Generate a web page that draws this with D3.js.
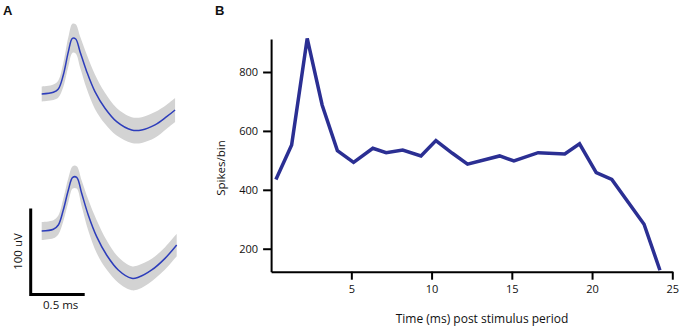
<!DOCTYPE html>
<html>
<head>
<meta charset="utf-8">
<script src="https://cdn.jsdelivr.net/npm/d3@7"></script>
<style>
  body { margin: 0; background: #fff; }
  svg text { font-family: "Open Sans", "Liberation Sans", sans-serif; fill: #111; }
</style>
</head>
<body>
<svg id="fig" width="680" height="329"></svg>
<script>
// ---- panel A : mean waveforms (ms, uV) with +/- sd band ----
var waveT1 = [0, 0.108, 0.154, 0.2, 0.247, 0.284, 0.315, 0.355, 0.417, 0.493, 0.586, 0.694, 0.833, 0.926, 1.049, 1.157, 1.235];
var waveV1 = [0, 2, 5.8, 22, 49.2, 64.8, 64, 49.2, 26, 2.7, -16.6, -32.2, -41.9, -41.9, -36, -26.4, -18.6];
var waveSd1 = [8.7, 9, 10, 14, 17, 17, 17, 18, 20, 20, 18, 16, 15, 15, 15, 14, 14];

var waveT2 = [0, 0.108, 0.154, 0.2, 0.247, 0.287, 0.324, 0.37, 0.431, 0.509, 0.601, 0.709, 0.833, 0.895, 1.019, 1.142, 1.25];
var waveV2 = [0, 2, 7, 24.4, 47.7, 62.4, 62.4, 43.8, 18.6, -6.6, -27.9, -45.3, -55, -53.8, -45.3, -31.8, -16.3];
var waveSd2 = [10.5, 10.5, 11, 13, 14, 13, 13, 15, 18, 19, 17, 15, 14, 14, 13, 13, 13];

// ---- panel B : PSTH ----
var psthTime = [0.3, 1.28, 2.25, 3.18, 4.13, 5.14, 6.34, 7.17, 8.2, 9.34, 10.27, 11.3, 12.24, 14.24, 15.13, 16.64, 18.3, 19.22, 20.26, 21.23, 23.24, 24.23];
var psthSpikes = [435, 552, 914, 688, 533, 493, 541, 526, 535, 515, 567, 524, 487, 515, 498, 526, 522, 556, 458, 435, 283, 127];
var xTicks = [5, 10, 15, 20, 25];
var yTicks = [200, 400, 600, 800];

var svg = d3.select("#fig");

// panel letters
svg.append("text").attr("x", 3).attr("y", 15).text("A")
	.attr("font-size", "13px").attr("font-weight", "bold").style("font-family", "Liberation Sans, Arial, sans-serif");
svg.append("text").attr("x", 215).attr("y", 15).text("B")
	.attr("font-size", "13px").attr("font-weight", "bold").style("font-family", "Liberation Sans, Arial, sans-serif");

// A scales: 108 px per ms, 0.86 px per uV
var xA = d3.scaleLinear().domain([0, 1.25]).range([41.7, 41.7 + 135]);
function yScaleA(base){
	return d3.scaleLinear().domain([0, 100]).range([base, base - 86]);
}
var yA1 = yScaleA(94),
	yA2 = yScaleA(231);

function drawWave(T, V, SD, ys){
	var pts = T.map(function(t, i){ return {t: t, v: V[i], sd: SD[i]}; });
	var area = d3.area()
		.x(function(d){ return xA(d.t); })
		.y0(function(d){ return ys(d.v - d.sd); })
		.y1(function(d){ return ys(d.v + d.sd); })
		.curve(d3.curveCatmullRom.alpha(0.5));
	var line = d3.line()
		.x(function(d){ return xA(d.t); })
		.y(function(d){ return ys(d.v); })
		.curve(d3.curveCatmullRom.alpha(0.5));
	svg.append("path").datum(pts).attr("d", area).attr("fill", "#d3d3d3");
	svg.append("path").datum(pts).attr("d", line)
		.attr("fill", "none").attr("stroke", "#2d3dbb").attr("stroke-width", 1.5);
}
drawWave(waveT1, waveV1, waveSd1, yA1);
drawWave(waveT2, waveV2, waveSd2, yA2);

// scale bar: 0.5 ms x 100 uV
var barX = 30.7, barY = 294.5;
var barW = xA(0.5) - xA(0),
	barH = yA2(0) - yA2(100);
svg.append("path")
	.attr("d", "M" + barX + "," + (barY - barH) + "V" + barY + "H" + (barX + barW))
	.attr("fill", "none").attr("stroke", "#000").attr("stroke-width", 3);
svg.append("text")
	.attr("transform", "translate(21.5," + (barY - barH / 2) + ") rotate(-90)")
	.attr("text-anchor", "middle").attr("font-size", "11.5px").text("100 uV");
svg.append("text")
	.attr("x", barX + barW / 2 + 3).attr("y", 308.5)
	.attr("text-anchor", "middle").attr("font-size", "11.5px").text("0.5 ms");

// B scales
var xB = d3.scaleLinear().domain([0, 25]).range([271.1, 672.3]);
var yB = d3.scaleLinear().domain([122, 912]).range([271.7, 39]);

var gx = svg.append("g").attr("transform", "translate(0," + yB(122) + ")")
	.call(d3.axisBottom(xB).tickValues(xTicks).tickSize(8).tickSizeOuter(0).tickPadding(6));
var gy = svg.append("g").attr("transform", "translate(" + xB(0) + ",0)")
	.call(d3.axisLeft(yB).tickValues(yTicks).tickSize(8).tickSizeOuter(0).tickPadding(5));
[gx, gy].forEach(function(g){
	g.select(".domain").attr("stroke", "#000").attr("stroke-width", 2);
	g.selectAll(".tick line").attr("stroke", "#000").attr("stroke-width", 2);
	g.selectAll(".tick text").attr("font-size", "11px").attr("fill", "#111")
		.style("font-family", "Open Sans, Liberation Sans, sans-serif");
});

svg.append("path")
	.datum(psthTime.map(function(t, i){ return [t, psthSpikes[i]]; }))
	.attr("d", d3.line().x(function(d){ return xB(d[0]); }).y(function(d){ return yB(d[1]); }))
	.attr("fill", "none").attr("stroke", "#2b2f93").attr("stroke-width", 3.5)
	.attr("stroke-linejoin", "miter");

svg.append("text")
	.attr("x", 482).attr("y", 322.5).attr("text-anchor", "middle")
	.attr("font-size", "12px").text("Time (ms) post stimulus period");
svg.append("text")
	.attr("transform", "translate(225,168) rotate(-90)")
	.attr("text-anchor", "middle").attr("font-size", "11.5px").text("Spikes/bin");
</script>
</body>
</html>
